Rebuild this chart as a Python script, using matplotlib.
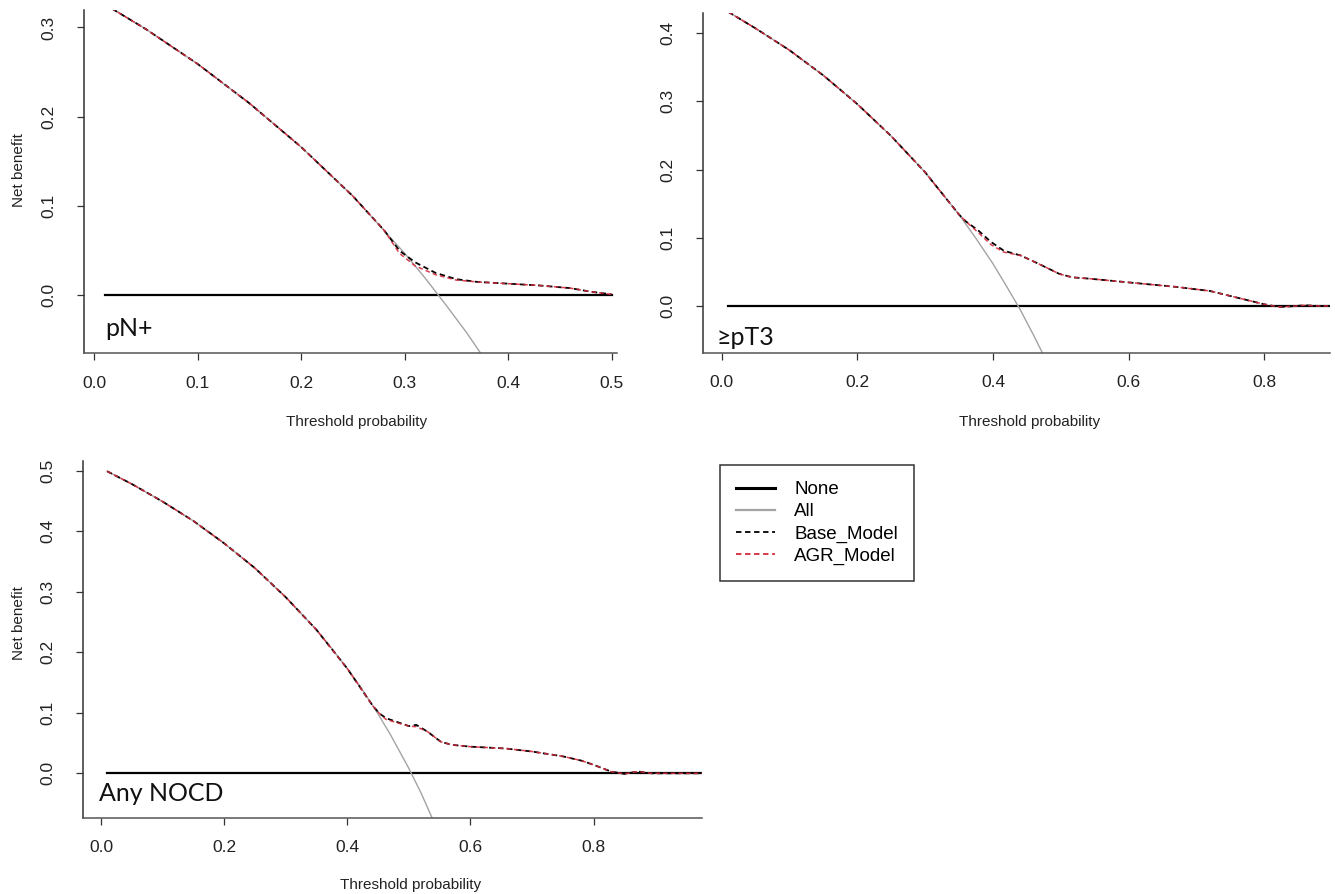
import matplotlib
matplotlib.use('Agg')
import matplotlib.pyplot as plt
from matplotlib.lines import Line2D

plt.rcParams['font.family'] = ['Liberation Sans', 'DejaVu Sans']

# ---- values ----
# pN+
pn_none_x = [0.01, 0.50]
pn_all_x = [0.01, 0.05, 0.10, 0.15, 0.20, 0.25, 0.30, 0.32, 0.34, 0.36, 0.38]
pn_all = [0.326, 0.298, 0.259, 0.215, 0.166, 0.111, 0.047, 0.019, -0.011, -0.042, -0.076]
pn_model_x = [0.01, 0.05, 0.10, 0.15, 0.20, 0.25, 0.28, 0.295, 0.31, 0.33, 0.35,
              0.37, 0.40, 0.43, 0.46, 0.48, 0.50]
pn_base = [0.326, 0.298, 0.259, 0.215, 0.166, 0.111, 0.073, 0.050, 0.037, 0.025,
           0.018, 0.015, 0.013, 0.011, 0.008, 0.004, 0.001]
pn_agr = [0.326, 0.298, 0.259, 0.215, 0.166, 0.111, 0.073, 0.047, 0.033, 0.023,
          0.017, 0.015, 0.013, 0.011, 0.008, 0.004, 0.001]

# >=pT3
pt3_none_x = [0.01, 0.99]
pt3_all_x = [0.01, 0.05, 0.10, 0.15, 0.20, 0.25, 0.30, 0.35, 0.375, 0.40, 0.42, 0.44, 0.46, 0.48]
pt3_all = [0.431, 0.407, 0.375, 0.338, 0.296, 0.249, 0.196, 0.134, 0.099, 0.062, 0.029,
           -0.005, -0.043, -0.083]
pt3_model_x = [0.01, 0.05, 0.10, 0.15, 0.20, 0.25, 0.30, 0.35, 0.36, 0.378, 0.397,
               0.416, 0.441, 0.467, 0.498, 0.517, 0.543, 0.606, 0.67, 0.72, 0.765,
               0.80, 0.822, 0.84, 0.86, 0.88, 0.99]
pt3_base = [0.431, 0.407, 0.375, 0.338, 0.296, 0.249, 0.196, 0.134, 0.124, 0.111, 0.094,
            0.081, 0.074, 0.062, 0.047, 0.042, 0.040, 0.034, 0.028, 0.022, 0.011,
            0.0025, -0.0015, -0.0005, 0.001, 0.0, 0.0]
pt3_agr = [0.431, 0.407, 0.375, 0.338, 0.296, 0.249, 0.196, 0.134, 0.124, 0.108, 0.090,
           0.079, 0.074, 0.062, 0.047, 0.042, 0.040, 0.034, 0.028, 0.022, 0.011,
           0.0025, -0.0015, -0.0005, 0.001, 0.0, 0.0]

# Any NOCD
nocd_none_x = [0.01, 0.99]
nocd_all_x = [0.01, 0.05, 0.10, 0.15, 0.20, 0.25, 0.30, 0.35, 0.375, 0.40, 0.42, 0.45,
              0.47, 0.50, 0.52, 0.55]
nocd_all = [0.499, 0.478, 0.449, 0.417, 0.380, 0.339, 0.291, 0.237, 0.206, 0.173, 0.145,
            0.098, 0.064, 0.008, -0.033, -0.102]
nocd_model_x = [0.01, 0.05, 0.10, 0.15, 0.20, 0.25, 0.30, 0.35, 0.40, 0.441, 0.452,
                0.463, 0.486, 0.50, 0.512, 0.530, 0.552, 0.57, 0.60, 0.657, 0.70,
                0.75, 0.78, 0.80, 0.828, 0.85, 0.872, 0.894, 0.95, 0.99]
nocd_base = [0.499, 0.478, 0.449, 0.417, 0.380, 0.339, 0.291, 0.237, 0.173, 0.112, 0.099,
             0.091, 0.083, 0.078, 0.080, 0.069, 0.052, 0.047, 0.044, 0.041, 0.036,
             0.028, 0.021, 0.014, 0.003, -0.001, 0.003, 0.0, 0.0, 0.0]
nocd_agr = [0.499, 0.478, 0.449, 0.417, 0.380, 0.339, 0.291, 0.237, 0.173, 0.112, 0.099,
            0.089, 0.082, 0.078, 0.077, 0.069, 0.052, 0.047, 0.044, 0.041, 0.036,
            0.028, 0.021, 0.014, 0.003, -0.001, 0.003, 0.0, 0.0, 0.0]

legend_labels = ['None', 'All', 'Base_Model', 'AGR_Model']

W, H = 1335, 894
tick_size = 12.5
lab_size = 11
tag_size = 18

c_all = '#a3a3a3'
c_agr = '#d42a3c'


def px_rect(left, top, right, bottom):
    return [left / W, 1 - bottom / H, (right - left) / W, (bottom - top) / H]


def draw_panel(ax, none_x, all_x, all_y, mod_x, base, agr, xlim, ylim, xticks, yticks, tag, tag_pos):
    ax.plot(none_x, [0, 0], color='black', lw=1.6)
    ax.plot(all_x, all_y, color=c_all, lw=1.0)
    ax.plot(mod_x, base, color='black', lw=1.3, ls=(0, (3, 2)))
    ax.plot(mod_x, agr, color=c_agr, lw=1.1, ls=(0, (3, 2)), alpha=0.9)
    ax.set_xlim(xlim)
    ax.set_ylim(ylim)
    ax.set_xticks(xticks)
    ax.set_yticks(yticks)
    ax.set_xticklabels(['%.1f' % t for t in xticks])
    ax.set_yticklabels(['%.1f' % t for t in yticks], rotation=90, va='center')
    for s in ['top', 'right']:
        ax.spines[s].set_visible(False)
    ax.spines['left'].set_color('#333333')
    ax.spines['bottom'].set_color('#555555')
    ax.spines['left'].set_linewidth(1.1)
    ax.spines['bottom'].set_linewidth(1.1)
    ax.tick_params(axis='x', direction='out', length=5, width=0.9, pad=11,
                   labelsize=tick_size, colors='#333333', labelcolor='#222222')
    ax.tick_params(axis='y', direction='out', length=5, width=0.9, pad=15,
                   labelsize=tick_size, colors='#333333', labelcolor='#222222')
    ax.text(tag_pos[0], tag_pos[1], tag, fontsize=tag_size, va='baseline', ha='left',
            family=['Lato', 'DejaVu Sans'], color='#111111')


fig = plt.figure(figsize=(W / 100, H / 100), dpi=100)

ax1 = fig.add_axes(px_rect(84.3, 9.6, 616.7, 353.3))
draw_panel(ax1, pn_none_x, pn_all_x, pn_all, pn_model_x, pn_base, pn_agr,
           (-0.0097, 0.505), (-0.065, 0.32), [0, 0.1, 0.2, 0.3, 0.4, 0.5], [0, 0.1, 0.2, 0.3],
           'pN+', (0.0103, -0.0456))
ax1.set_xlabel('Threshold probability', fontsize=lab_size, color='#222222')
ax1.xaxis.set_label_coords(0.512, -0.200)
ax1.xaxis.label.set_va('center')
ax1.set_ylabel('Net benefit', fontsize=lab_size, color='#222222')
ax1.yaxis.set_label_coords(-0.123, 0.533)
ax1.yaxis.label.set_va('center')

ax2 = fig.add_axes(px_rect(703.3, 12.7, 1330, 352.7))
draw_panel(ax2, pt3_none_x, pt3_all_x, pt3_all, pt3_model_x, pt3_base, pt3_agr,
           (-0.0271, 0.897), (-0.0685, 0.430), [0, 0.2, 0.4, 0.6, 0.8], [0, 0.1, 0.2, 0.3, 0.4],
           '\u2265pT3', (-0.007, -0.057))
ax2.set_xlabel('Threshold probability', fontsize=lab_size, color='#222222')
ax2.xaxis.set_label_coords(0.5207, -0.204)
ax2.xaxis.label.set_va('center')

ax3 = fig.add_axes(px_rect(82.7, 461, 701.7, 817.5))
draw_panel(ax3, nocd_none_x, nocd_all_x, nocd_all, nocd_model_x, nocd_base, nocd_agr,
           (-0.0297, 0.9755), (-0.073, 0.516), [0, 0.2, 0.4, 0.6, 0.8], [0, 0.1, 0.2, 0.3, 0.4, 0.5],
           'Any NOCD', (-0.004, -0.046))
ax3.set_xlabel('Threshold probability', fontsize=lab_size, color='#222222')
ax3.xaxis.set_label_coords(0.530, -0.189)
ax3.xaxis.label.set_va('center')
ax3.set_ylabel('Net benefit', fontsize=lab_size, color='#222222')
ax3.yaxis.set_label_coords(-0.103, 0.545)
ax3.yaxis.label.set_va('center')

handles = [
    Line2D([], [], color='black', lw=2.2),
    Line2D([], [], color=c_all, lw=1.6),
    Line2D([], [], color='black', lw=1.3, ls=(0, (3, 2))),
    Line2D([], [], color=c_agr, lw=1.3, ls=(0, (3, 2))),
]
leg = fig.legend(handles, legend_labels, loc='upper left',
                 bbox_to_anchor=(720 / W, 1 - 465 / H), borderaxespad=0,
                 fontsize=13.5, frameon=True, fancybox=False, edgecolor='black',
                 handlelength=2.1, handletextpad=1.0, borderpad=0.85, labelspacing=0.27)
leg.get_frame().set_linewidth(1.1)

fig.savefig('out.png', dpi=100)
